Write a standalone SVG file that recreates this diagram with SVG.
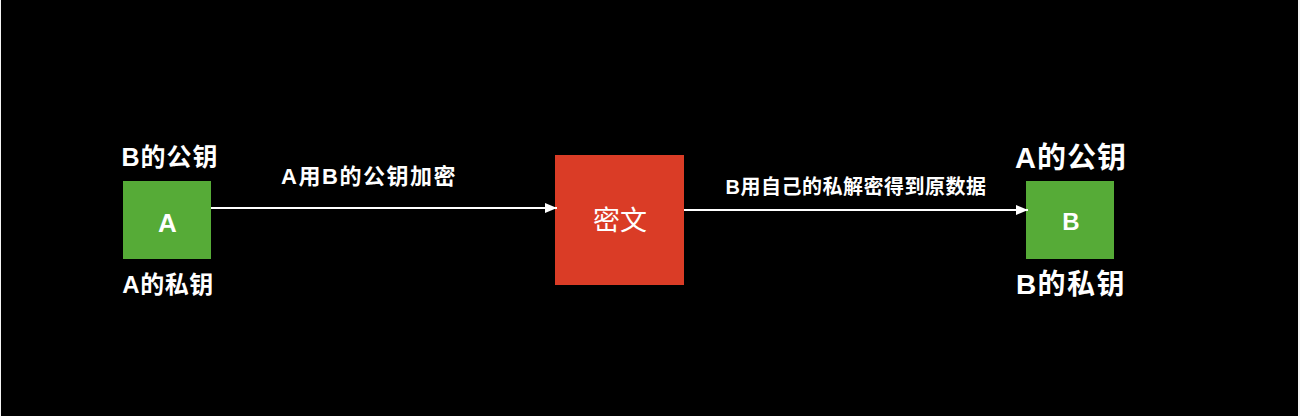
<svg xmlns="http://www.w3.org/2000/svg" width="1300" height="416" viewBox="0 0 1300 416">
<style>
.t{font-family:"Liberation Sans","Noto Sans CJK SC",sans-serif;fill:#ffffff;text-anchor:middle}
.b{font-weight:bold}
.conn{stroke:#ffffff;stroke-width:2;fill:none}
.green{fill:#56AB37}
.red{fill:#DA3C26}
</style>
<defs>
<marker id="arrow" viewBox="0 0 12 10" refX="12" refY="5" markerWidth="12" markerHeight="10" markerUnits="userSpaceOnUse" orient="auto">
<path d="M0,0 L12,5 L0,10 Z" fill="#ffffff"/>
</marker>
</defs>
<rect x="0" y="0" width="1300" height="416" fill="#f4f4f4"/>
<rect x="1" y="0" width="1297" height="416" fill="#000000"/>
<g id="nodeA">
<rect class="green" x="123" y="181" width="88" height="78"/>
<text class="t b" x="167.5" y="232" font-size="26">A</text>
<text class="t b" x="170" y="166" font-size="25" letter-spacing="1">B的公钥</text>
<text class="t b" x="168" y="293" font-size="24" letter-spacing="0.5">A的私钥</text>
</g>
<g id="nodeCipher">
<rect class="red" x="555" y="155" width="129" height="130"/>
<text class="t" x="620" y="230" font-size="27">密文</text>
</g>
<g id="nodeB">
<rect class="green" x="1026" y="181" width="88" height="78"/>
<text class="t b" x="1071" y="230" font-size="24">B</text>
<text class="t b" x="1071" y="168" font-size="29" letter-spacing="1">A的公钥</text>
<text class="t b" x="1071" y="294" font-size="28" letter-spacing="1.5">B的私钥</text>
</g>
<g id="connectors">
<line class="conn" x1="211" y1="208" x2="557" y2="208" marker-end="url(#arrow)"/>
<line class="conn" x1="684" y1="210" x2="1028" y2="210" marker-end="url(#arrow)"/>
<text class="t b" x="369" y="184" font-size="22" letter-spacing="1.5">A用B的公钥加密</text>
<text class="t b" x="856" y="194" font-size="20" letter-spacing="0.5">B用自己的私解密得到原数据</text>
</g>
</svg>
